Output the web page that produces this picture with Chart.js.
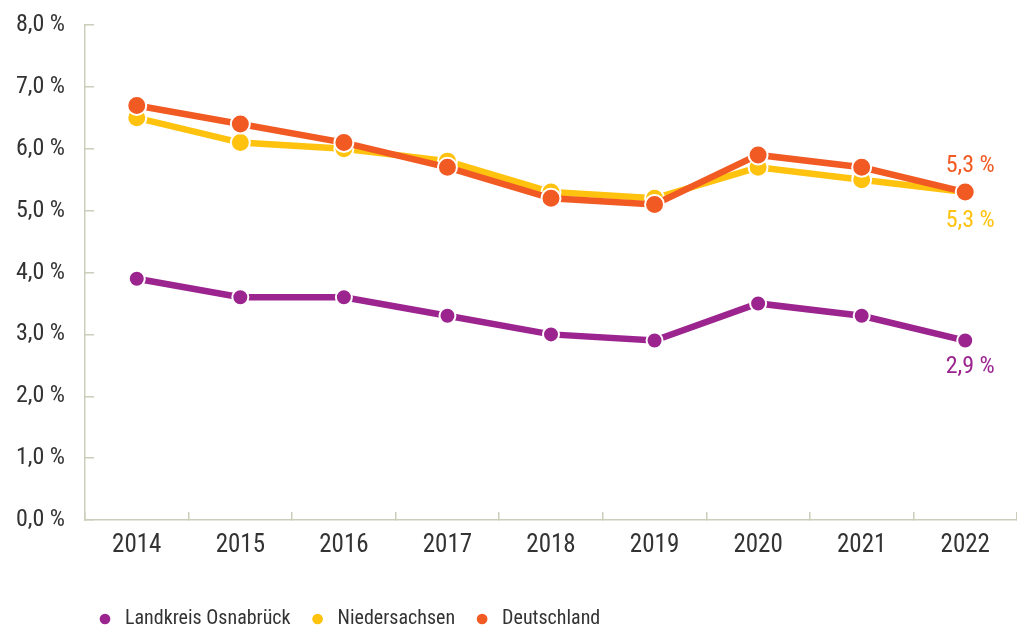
<!DOCTYPE html>
<html>
<head>
<meta charset="utf-8">
<script src="https://cdn.jsdelivr.net/npm/chart.js@4.4.0/dist/chart.umd.min.js"></script>
<style>
  html, body { margin: 0; padding: 0; background: #fff; }
  #wrap { width: 1017px; height: 628px; }
</style>
</head>
<body>
<div id="wrap"><canvas id="chart"></canvas></div>
<script>
// Daten
const years = ['2014', '2015', '2016', '2017', '2018', '2019', '2020', '2021', '2022'];
const landkreis = [3.9, 3.6, 3.6, 3.3, 3.0, 2.9, 3.5, 3.3, 2.9];
const niedersachsen = [6.5, 6.1, 6.0, 5.8, 5.3, 5.2, 5.7, 5.5, 5.3];
const deutschland = [6.7, 6.4, 6.1, 5.7, 5.2, 5.1, 5.9, 5.7, 5.3];
const yMin = 0;
const yMax = 8;
const yStep = 1;

const FONT = "'Roboto Condensed', 'DejaVu Sans Condensed', sans-serif";
const TEXT = '#333333';
const AXIS = '#cdcdbb';

const fmt = v => v.toFixed(1).replace('.', ',') + ' %';

// Werte am letzten Punkt
const endLabels = {
    id: 'endLabels',
    afterDatasetsDraw(chart) {
        const ctx = chart.ctx;
        ctx.save();
        ctx.font = '24px ' + FONT;
        ctx.textAlign = 'center';
        ctx.textBaseline = 'middle';
        chart.data.datasets.forEach((ds, i) => {
            const meta = chart.getDatasetMeta(i);
            const pt = meta.data[meta.data.length - 1];
            ctx.fillStyle = ds.borderColor;
            ctx.fillText(fmt(ds.data[ds.data.length - 1]), pt.x + 5, pt.y + ds.labelOffset);
        });
        ctx.restore();
    }
};

// Legende verschieben
const legendShift = {
    id: 'legendShift',
    afterLayout(chart) {
        chart.legend.left = 78;
        chart.legend.top += 5;
    }
};

function line(label, data, color, radius, order, labelOffset) {
    return {
        label: label,
        data: data,
        borderColor: color,
        backgroundColor: color,
        borderWidth: 6.5,
        tension: 0,
        pointRadius: radius,
        pointHoverRadius: radius,
        pointBackgroundColor: color,
        pointBorderColor: '#fff',
        pointBorderWidth: 2,
        order: order,
        labelOffset: labelOffset,
        clip: false
    };
}

new Chart(document.getElementById('chart').getContext('2d'), {
    type: 'line',
    data: {
        labels: years,
        datasets: [
            line('Landkreis Osnabrück', landkreis, '#9b248f', 8, 2, 26),
            line('Niedersachsen', niedersachsen, '#ffc20e', 9.5, 1, 29),
            line('Deutschland', deutschland, '#f15a22', 9.5, 0, -26)
        ]
    },
    options: {
        responsive: true,
        maintainAspectRatio: false,
        animation: false,
        layout: { autoPadding: false, padding: { top: 25, right: 0, bottom: -6, left: 0 } },
        plugins: {
            tooltip: { enabled: false },
            legend: {
                position: 'bottom',
                align: 'start',
                labels: {
                    usePointStyle: true,
                    pointStyle: 'circle',
                    boxHeight: 9,
                    padding: 17,
                    color: TEXT,
                    font: { family: FONT, size: 20 },
                    sort: (a, b) => a.datasetIndex - b.datasetIndex
                }
            }
        },
        scales: {
            x: {
                offset: true,
                afterFit(scale) { scale.height = 67; },
                grid: { display: true, drawOnChartArea: false, offset: true, tickLength: -8, color: AXIS, lineWidth: 1.5 },
                border: { display: true, color: AXIS, width: 1.5 },
                ticks: { color: TEXT, font: { family: FONT, size: 25 }, padding: 19, maxRotation: 0 }
            },
            y: {
                min: yMin,
                max: yMax,
                afterFit(scale) {
                    scale.width = 85;
                    scale.paddingTop = 0;
                    scale.paddingBottom = 0;
                },
                grid: { display: true, drawOnChartArea: false, tickLength: -9, color: AXIS, lineWidth: 1.5 },
                border: { display: true, color: AXIS, width: 1.5 },
                ticks: { stepSize: yStep, color: TEXT, font: { family: FONT, size: 24 }, padding: 29, callback: v => fmt(v) }
            }
        }
    },
    plugins: [endLabels, legendShift]
});
</script>
</body>
</html>
